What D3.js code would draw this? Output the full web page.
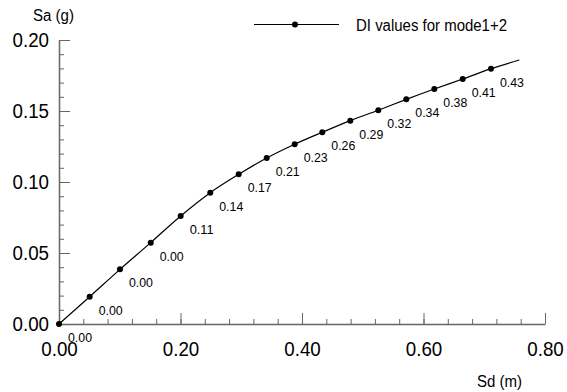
<!DOCTYPE html>
<html>
<head>
<meta charset="utf-8">
<script src="https://cdn.jsdelivr.net/npm/d3@7"></script>
<style>
  html, body { margin: 0; padding: 0; background: #fff; }
  svg { display: block; font-family: "Liberation Sans", Arial, sans-serif; }
</style>
</head>
<body>
<svg id="chart" width="567" height="392"></svg>
<script>
// ---- data ----
const sdValues = [0, 0.0505, 0.1004, 0.151, 0.2003, 0.249, 0.2958, 0.3419, 0.388, 0.4334, 0.4795, 0.5256, 0.5717, 0.6178, 0.6645, 0.7111];
const saValues = [0, 0.0192, 0.0385, 0.0573, 0.0761, 0.0925, 0.1054, 0.1169, 0.1266, 0.135, 0.1432, 0.1505, 0.1582, 0.1655, 0.1725, 0.1798];
const diLabels = ["0.00","0.00","0.00","0.00","0.11","0.14","0.17","0.21","0.23","0.26","0.29","0.32","0.34","0.38","0.41","0.43"];
const curveEndSd = [0.7577];
const curveEndSa = [0.1859];
const xTicks = [0, 0.2, 0.4, 0.6, 0.8];
const yTicks = [0, 0.05, 0.1, 0.15, 0.2];
const xMinorStep = 0.04;
const yMinorStep = 0.01;
const seriesName = "DI values for mode1+2";
const xTitle = "Sd (m)";
const yTitle = "Sa (g)";

// ---- layout ----
const svg = d3.select("#chart");
const x = d3.scaleLinear().domain([0, 0.8]).range([59, 545]);
const y = d3.scaleLinear().domain([0, 0.2]).range([324, 40]);
const axisColor = "#666";

const xMinor = d3.range(0, 0.8 + 1e-9, xMinorStep);
const yMinor = d3.range(0, 0.2 + 1e-9, yMinorStep);

// minor ticks
svg.append("g").attr("transform", `translate(0,${y(0)})`)
  .call(d3.axisBottom(x).tickValues(xMinor).tickSize(-5).tickSizeOuter(0).tickFormat(""))
  .call(g => g.selectAll("line").attr("stroke", axisColor))
  .call(g => g.select(".domain").attr("stroke", axisColor).attr("stroke-width", 1.5));
svg.append("g").attr("transform", `translate(${x(0)},0)`)
  .call(d3.axisLeft(y).tickValues(yMinor).tickSize(-5).tickSizeOuter(0).tickFormat(""))
  .call(g => g.selectAll("line").attr("stroke", axisColor))
  .call(g => g.select(".domain").attr("stroke", axisColor).attr("stroke-width", 1.5));

// major ticks + labels
svg.append("g").attr("transform", `translate(0,${y(0)})`)
  .call(d3.axisBottom(x).tickValues(xTicks).tickSize(-11).tickSizeOuter(0).tickPadding(17).tickFormat(d3.format(".2f")))
  .call(g => g.select(".domain").remove())
  .call(g => g.selectAll("line").attr("stroke", axisColor))
  .call(g => g.selectAll("text").attr("fill", "#000").attr("font-size", 20.5).attr("font-family", null)
    .attr("textLength", 36.5).attr("lengthAdjust", "spacingAndGlyphs"));
svg.append("g").attr("transform", `translate(${x(0)},0)`)
  .call(d3.axisLeft(y).tickValues(yTicks).tickSize(-11).tickSizeOuter(0).tickPadding(10).tickFormat(d3.format(".2f")))
  .call(g => g.select(".domain").remove())
  .call(g => g.selectAll("line").attr("stroke", axisColor))
  .call(g => g.selectAll("text").attr("fill", "#000").attr("font-size", 20.5).attr("font-family", null)
    .attr("textLength", 36.5).attr("lengthAdjust", "spacingAndGlyphs"));

// axis titles
svg.append("text").attr("x", 33).attr("y", 20.5).attr("font-size", 16)
  .attr("textLength", 41).attr("lengthAdjust", "spacingAndGlyphs").text(yTitle);
svg.append("text").attr("x", 477).attr("y", 386.5).attr("font-size", 16)
  .attr("textLength", 45).attr("lengthAdjust", "spacingAndGlyphs").text(xTitle);

// curve
const pts = sdValues.map((d, i) => [d, saValues[i]]);
const linePts = pts.concat(curveEndSd.map((d, i) => [d, curveEndSa[i]]));
svg.append("path")
  .datum(linePts)
  .attr("fill", "none").attr("stroke", "#000").attr("stroke-width", 1.2)
  .attr("d", d3.line().x(d => x(d[0])).y(d => y(d[1])).curve(d3.curveMonotoneX));

svg.append("g").selectAll("circle").data(pts).join("circle")
  .attr("cx", d => x(d[0])).attr("cy", d => y(d[1])).attr("r", 3).attr("fill", "#000");

svg.append("g").selectAll("text").data(pts).join("text")
  .attr("x", d => x(d[0]) + 21).attr("y", d => y(d[1]) + 18)
  .attr("text-anchor", "middle").attr("font-size", 13.5)
  .attr("textLength", 24).attr("lengthAdjust", "spacingAndGlyphs")
  .text((d, i) => diLabels[i]);

// legend
const lg = svg.append("g");
lg.append("line").attr("x1", 254).attr("x2", 339).attr("y1", 24.5).attr("y2", 24.5).attr("stroke", "#000").attr("stroke-width", 1.2);
lg.append("circle").attr("cx", 295).attr("cy", 24.5).attr("r", 3).attr("fill", "#000");
lg.append("text").attr("x", 356).attr("y", 30.5).attr("font-size", 16)
  .attr("textLength", 151).attr("lengthAdjust", "spacingAndGlyphs").text(seriesName);
</script>
</body>
</html>
